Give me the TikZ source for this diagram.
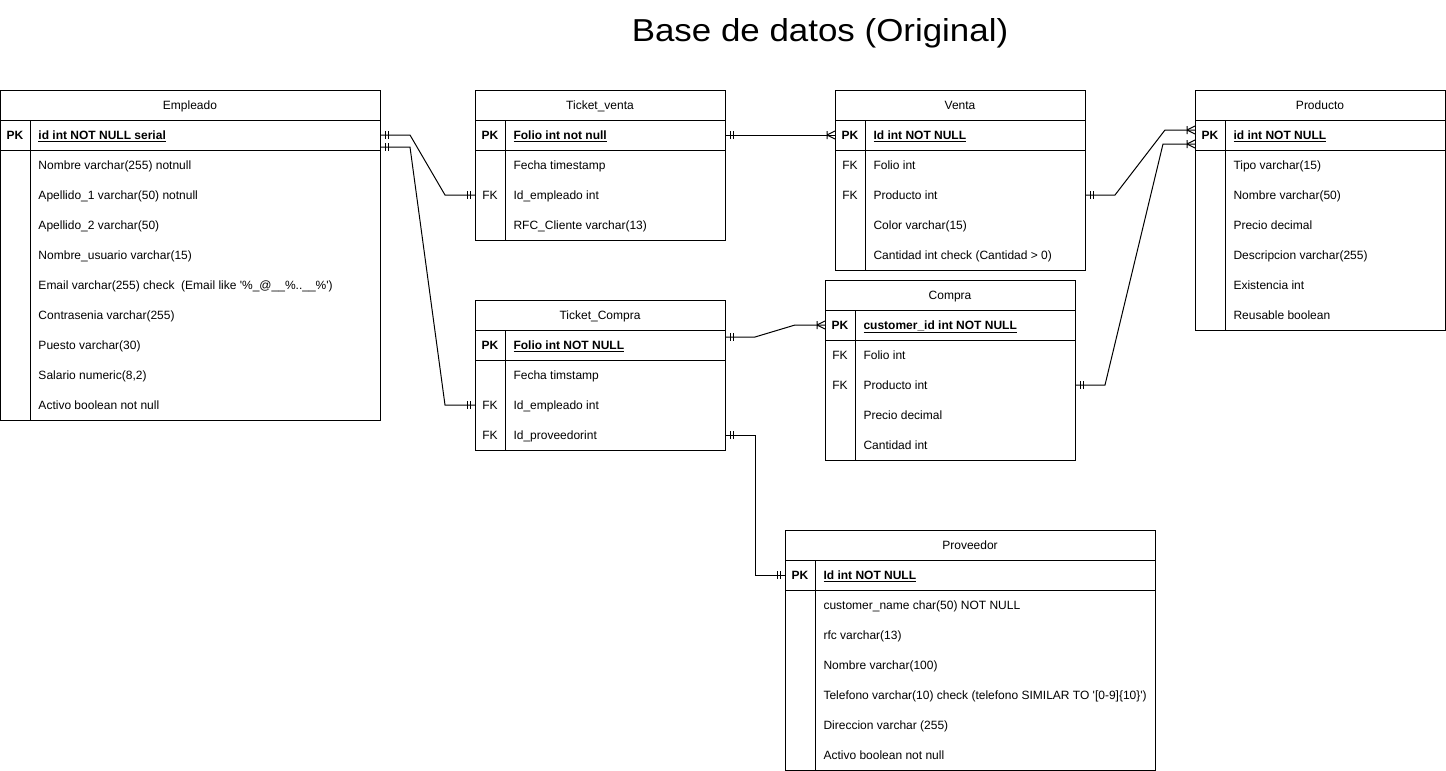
\documentclass[tikz,border=0pt]{standalone}
\usepackage{fontspec}
\setmainfont{Liberation Sans}
\newfontfamily\ertitlefont[FakeStretch=1.1]{Liberation Sans}
\usetikzlibrary{calc,decorations.markings}
\newcommand{\erpk}[1]{\textbf{\underline{#1}}}
\newcommand{\ertable}[6]{%
  \node[tbl, minimum width=#4*0.75pt, minimum height=(60+30*#5)*0.75pt] (#1) at (#2,#3) {};
  \draw[edge] (#2,#3+30) -- ++(#4,0) (#2,#3+60) -- ++(#4,0) (#2+30,#3+30) -- (#2+30,#3+60+30*#5);
  \node[hdr] (#1-h) at (#2+#4/2,#3+15) {#6};
}
\begin{document}
\begin{tikzpicture}[x=0.75pt,y=-0.75pt,line width=0.75pt,
  font=\fontsize{9}{11}\selectfont,
  tbl/.style={draw, rectangle, inner sep=0pt, outer sep=0pt, anchor=north west},
  edge/.style={draw, line width=0.75pt},
  hdr/.style={inner sep=0pt, text height=6.4pt, text depth=0pt},
  fld/.style={anchor=west, inner sep=0pt, text height=6.4pt, text depth=0pt},
  keyl/.style={inner sep=0pt, text height=6.4pt, text depth=0pt},
  title/.style={inner sep=0pt, text height=17pt, text depth=0pt, font=\ertitlefont\fontsize{23.8}{28}\selectfont},
  mk/.style={line width=0.75pt},
  oneone/.style={draw, postaction={decorate, decoration={markings,
      mark=at position 3.75pt with {\draw[mk] (0,-4) -- (0,4);},
      mark=at position 6pt with {\draw[mk] (0,-4) -- (0,4);},
      mark=at position -3.75pt with {\draw[mk] (0,-4) -- (0,4);},
      mark=at position -6pt with {\draw[mk] (0,-4) -- (0,4);}}}},
  onemany/.style={draw, postaction={decorate, decoration={markings,
      mark=at position 3.75pt with {\draw[mk] (0,-4) -- (0,4);},
      mark=at position 6pt with {\draw[mk] (0,-4) -- (0,4);},
      mark=at position -6pt with {\draw[mk] (0,-4) -- (0,4) (0,0) -- (8,4) (0,0) -- (8,-4);}}}}
]
\useasboundingbox (0,0) rectangle (1446,771);

\node[title] (ttl) at (820,30.5) {Base de datos (Original)};

% Empleado
\ertable{emp}{0}{90}{380}{9}{Empleado}
\node[keyl] (emp-pkk) at (15,135) {\textbf{PK}};
\node[fld] (emp-pk) at (38,135) {\erpk{id int NOT NULL serial}};
\node[fld] (emp-1) at (38,165) {Nombre varchar(255) notnull};
\node[fld] (emp-2) at (38,195) {Apellido\_1 varchar(50) notnull};
\node[fld] (emp-3) at (38,225) {Apellido\_2 varchar(50)};
\node[fld] (emp-4) at (38,255) {Nombre\_usuario varchar(15)};
\node[fld] (emp-5) at (38,285) {Email varchar(255) check\ \ (Email like \textquotesingle\%\_@\_\_\%..\_\_\%\textquotesingle)};
\node[fld] (emp-6) at (38,315) {Contrasenia varchar(255)};
\node[fld] (emp-7) at (38,345) {Puesto varchar(30)};
\node[fld] (emp-8) at (38,375) {Salario numeric(8,2)};
\node[fld] (emp-9) at (38,405) {Activo boolean not null};

% Ticket_venta
\ertable{tv}{475}{90}{250}{3}{Ticket\_venta}
\node[keyl] (tv-pkk) at (490,135) {\textbf{PK}};
\node[fld] (tv-pk) at (513,135) {\erpk{Folio int not null}};
\node[fld] (tv-1) at (513,165) {Fecha timestamp};
\node[keyl] (tv-2k) at (490,195) {FK};
\node[fld] (tv-2) at (513,195) {Id\_empleado int};
\node[fld] (tv-3) at (513,225) {RFC\_Cliente varchar(13)};

% Venta
\ertable{ve}{835}{90}{250}{4}{Venta}
\node[keyl] (ve-pkk) at (850,135) {\textbf{PK}};
\node[fld] (ve-pk) at (873,135) {\erpk{Id int NOT NULL}};
\node[keyl] (ve-1k) at (850,165) {FK};
\node[fld] (ve-1) at (873,165) {Folio int};
\node[keyl] (ve-2k) at (850,195) {FK};
\node[fld] (ve-2) at (873,195) {Producto int};
\node[fld] (ve-3) at (873,225) {Color varchar(15)};
\node[fld] (ve-4) at (873,255) {Cantidad int check (Cantidad > 0)};

% Producto
\ertable{pr}{1195}{90}{250}{6}{Producto}
\node[keyl] (pr-pkk) at (1210,135) {\textbf{PK}};
\node[fld] (pr-pk) at (1233,135) {\erpk{id int NOT NULL}};
\node[fld] (pr-1) at (1233,165) {Tipo varchar(15)};
\node[fld] (pr-2) at (1233,195) {Nombre varchar(50)};
\node[fld] (pr-3) at (1233,225) {Precio decimal};
\node[fld] (pr-4) at (1233,255) {Descripcion varchar(255)};
\node[fld] (pr-5) at (1233,285) {Existencia int};
\node[fld] (pr-6) at (1233,315) {Reusable boolean};

% Ticket_Compra
\ertable{tc}{475}{300}{250}{3}{Ticket\_Compra}
\node[keyl] (tc-pkk) at (490,345) {\textbf{PK}};
\node[fld] (tc-pk) at (513,345) {\erpk{Folio int NOT NULL}};
\node[fld] (tc-1) at (513,375) {Fecha timstamp};
\node[keyl] (tc-2k) at (490,405) {FK};
\node[fld] (tc-2) at (513,405) {Id\_empleado int};
\node[keyl] (tc-3k) at (490,435) {FK};
\node[fld] (tc-3) at (513,435) {Id\_proveedorint};

% Compra
\ertable{co}{825}{280}{250}{4}{Compra}
\node[keyl] (co-pkk) at (840,325) {\textbf{PK}};
\node[fld] (co-pk) at (863,325) {\erpk{customer\_id int NOT NULL}};
\node[keyl] (co-1k) at (840,355) {FK};
\node[fld] (co-1) at (863,355) {Folio int};
\node[keyl] (co-2k) at (840,385) {FK};
\node[fld] (co-2) at (863,385) {Producto int};
\node[fld] (co-3) at (863,415) {Precio decimal};
\node[fld] (co-4) at (863,445) {Cantidad int};

% Proveedor
\ertable{pv}{785}{530}{370}{6}{Proveedor}
\node[keyl] (pv-pkk) at (800,575) {\textbf{PK}};
\node[fld] (pv-pk) at (823,575) {\erpk{Id int NOT NULL}};
\node[fld] (pv-1) at (823,605) {customer\_name char(50) NOT NULL};
\node[fld] (pv-2) at (823,635) {rfc varchar(13)};
\node[fld] (pv-3) at (823,665) {Nombre varchar(100)};
\node[fld] (pv-4) at (823,695) {Telefono varchar(10) check (telefono SIMILAR TO \textquotesingle[0-9]\{10\}\textquotesingle)};
\node[fld] (pv-5) at (823,725) {Direccion varchar (255)};
\node[fld] (pv-6) at (823,755) {Activo boolean not null};

% Connectors
\path[oneone] (emp.east |- emp-pk) -- ++(30,0) -- ($(tv.west |- tv-2)+(-30,0)$) -- (tv.west |- tv-2);
\path[oneone] ($(emp.east |- emp-pk)+(0,12)$) -- ++(30,0) -- ($(tc.west |- tc-2)+(-30,0)$) -- (tc.west |- tc-2);
\path[onemany] (tv.east |- tv-pk) -- (ve.west |- ve-pk);
\path[onemany] (ve.east |- ve-2) -- ++(30,0) -- ($(pr.west |- pr-pk)+(-30,-5)$) -- ($(pr.west |- pr-pk)+(0,-5)$);
\path[onemany] (co.east |- co-2) -- ++(30,0) -- ($(pr.west |- pr-pk)+(-32,9)$) -- ($(pr.west |- pr-pk)+(0,9)$);
\path[onemany] ($(tc.east |- tc-pk)+(0,-8)$) -- ++(30,0) -- ($(co.west |- co-pk)+(-30,0)$) -- (co.west |- co-pk);
\path[oneone] (tc.east |- tc-3) -- ++(30,0) |- (pv.west |- pv-pk);
\end{tikzpicture}
\end{document}
